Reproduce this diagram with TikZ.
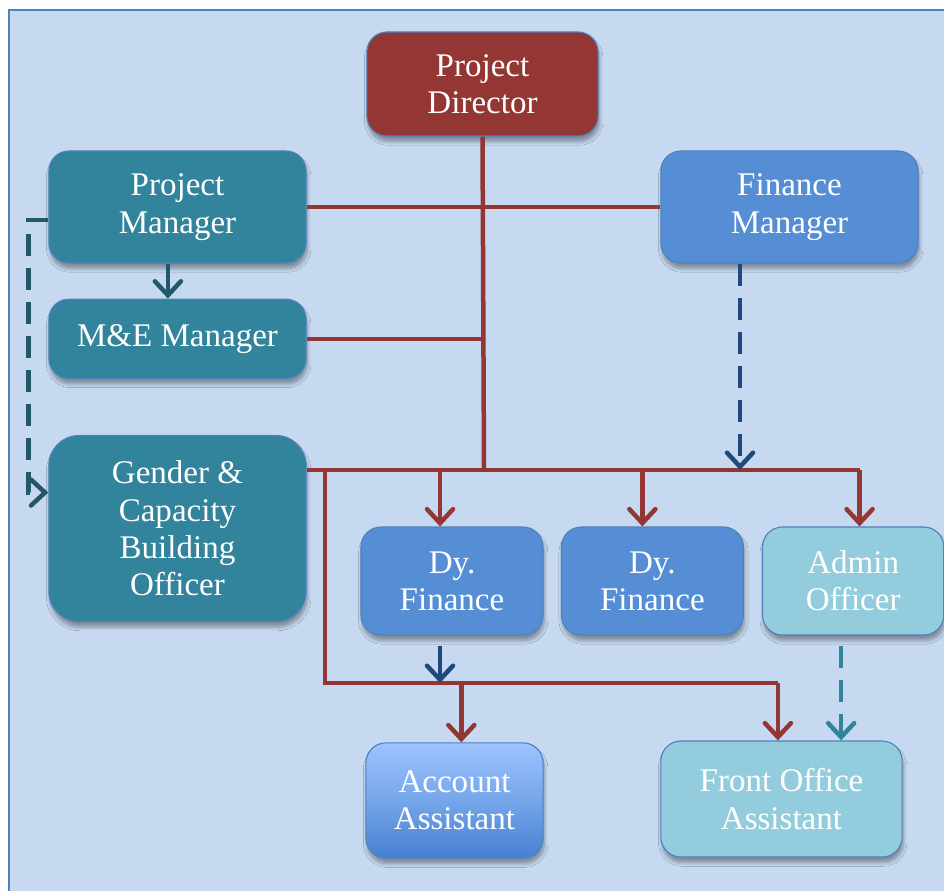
\documentclass[tikz,border=0pt]{standalone}
\usepackage{fontspec}
\setmainfont{Liberation Serif}
\usetikzlibrary{arrows.meta, positioning, shadows.blur}
\definecolor{chartbg}{HTML}{C6D9F0}
\definecolor{frameblue}{HTML}{4F81BD}
\definecolor{linkred}{HTML}{943634}
\definecolor{tealfill}{HTML}{31849B}
\definecolor{bluefill}{HTML}{558ED5}
\definecolor{palefill}{HTML}{93CDDD}
\definecolor{acctop}{HTML}{9DC3FF}
\definecolor{accbottom}{HTML}{4581D0}
\definecolor{navy}{HTML}{1F497D}
\definecolor{darkteal}{HTML}{215968}
\tikzset{
  box/.style={rectangle,rounded corners=0.5cm,draw=frameblue,line width=0.8pt,
    text=white,align=center,inner sep=0pt,font=\fontsize{23.5}{26.5}\selectfont,
    blur shadow={shadow xshift=0.3mm,shadow yshift=-1.4mm,shadow blur radius=0.9mm,
      shadow blur steps=6,shadow opacity=35}},
  topbox/.style={box,fill=linkred},
  tealbox/.style={box,fill=tealfill,minimum width=6.43cm},
  bluebox/.style={box,fill=bluefill},
  palebox/.style={box,fill=palefill},
  tip/.tip={Straight Barb[length=3.5mm,width=6.5mm,line cap=round]},
  link/.style={line width=3.2pt,draw=linkred},
  arrow/.style={link,-tip},
  dasharrow/.style={-tip,line width=3.2pt,dash pattern=on 0.55cm off 0.3cm}
}

\begin{document}
\begin{tikzpicture}[x=0.025cm,y=-0.025cm]
  \useasboundingbox (0,0) rectangle (944,890);
  \fill[white] (0,0) rectangle (944,890);
  \filldraw[fill=chartbg,draw=frameblue,line width=1.5pt] (9,10) rectangle (950,900);

  % boxes
  \node[topbox,minimum width=5.78cm,minimum height=2.6cm] (dir) at (482.5,84) {Project\\ Director};
  \node[tealbox,minimum height=2.8cm] (pm) at (177.5,207) {Project\\ Manager};
  \node[tealbox,minimum height=1.98cm,below=0.875cm of pm] (me) {M\&E Manager};
  \node[tealbox,minimum height=4.65cm,rounded corners=0.75cm,below=1.4cm of me] (gcb)
    {Gender \&\\ Capacity\\ Building\\ Officer};
  \node[bluebox,minimum width=6.43cm,minimum height=2.8cm] (fm) at (789.5,207) {Finance\\ Manager};
  \node[bluebox,minimum width=4.55cm,minimum height=2.7cm] (df1) at (452,581) {Dy.\\ Finance};
  \node[bluebox,minimum width=4.55cm,minimum height=2.7cm,right=0.43cm of df1] (df2) {Dy.\\ Finance};
  \node[palebox,minimum width=4.53cm,minimum height=2.7cm,right=0.45cm of df2] (adm) {Admin\\ Officer};
  \node[box,top color=acctop,bottom color=accbottom,middle color=acctop!55!accbottom,
    minimum width=4.43cm,minimum height=2.88cm] (acc) at (454.5,800.5) {Account\\ Assistant};
  \node[palebox,minimum width=6.03cm,minimum height=2.9cm] (foa) at (781.5,799) {Front Office\\ Assistant};

  \coordinate (bus) at (484,470);
  \coordinate (low) at (325,683);
  \coordinate (fmdrop) at (740,470);
  % drop points onto each box
  \coordinate (df1in) at ([xshift=-0.3cm]df1.north);
  \coordinate (df2in) at ([xshift=-0.25cm]df2.north);
  \coordinate (admin) at ([xshift=0.16cm]adm.north);
  \coordinate (accin) at ([xshift=0.17cm]acc.north);
  \coordinate (foain) at ([xshift=-0.09cm]foa.north);
  \coordinate (df1out) at ([xshift=-0.3cm,yshift=-0.25cm]df1.south);
  \coordinate (admout) at ([xshift=-0.3cm,yshift=-0.25cm]adm.south);

  % red reporting lines
  \draw[link] (dir.south) -- (bus);
  \draw[link] (pm.east) -- (fm.west);
  \draw[link] (me.east) -- (me.east -| bus);
  \draw[link] (gcb.east |- bus) -- (bus -| admin);
  \draw[arrow] (bus -| df1in) -- (df1in);
  \draw[arrow] (bus -| df2in) -- (df2in);
  \draw[arrow] (bus -| admin) -- (admin);
  \draw[link] (low |- bus) -- (low) -- (low -| foain);
  \draw[arrow] (low -| accin) -- (accin);
  \draw[arrow] (low -| foain) -- (foain);

  % dotted-line and short links
  \draw[dasharrow,navy] (fm.south -| fmdrop) -- (fmdrop);
  \draw[-tip,line width=3.2pt,darkteal] ([xshift=-0.24cm]pm.south) -- ([xshift=-0.24cm]me.north);
  \draw[-tip,line width=3.2pt,navy] (df1out) -- (df1out |- low);
  \draw[dasharrow,tealfill] (admout) -- (admout |- foa.north);
  \draw[dasharrow,darkteal] ([yshift=-0.33cm]pm.west) -| ([xshift=-0.5cm,yshift=0.9cm]gcb.west)
    -- ([yshift=0.9cm]gcb.west);
\end{tikzpicture}
\end{document}
